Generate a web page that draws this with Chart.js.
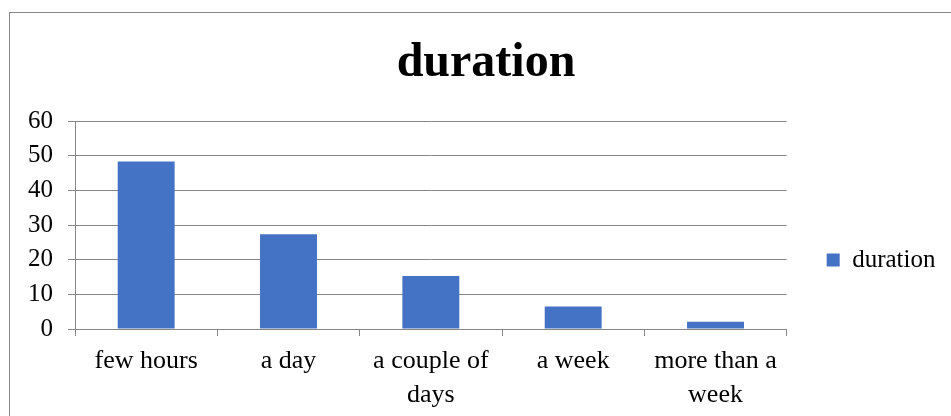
<!DOCTYPE html>
<html><head><meta charset="utf-8">
<script src="https://cdn.jsdelivr.net/npm/chart.js@4"></script>
<style>
html,body{margin:0;padding:0;overflow:hidden;background:#fff;}
#frame{position:absolute;left:9px;top:12px;width:1000px;height:500px;border:1px solid #888;box-sizing:border-box;}
#wrap{position:absolute;left:0;top:0;width:951px;height:416px;}
</style></head><body>
<div id="frame"></div>
<div id="wrap"><canvas id="c" width="951" height="416"></canvas></div>
<script>
const categories = [['few hours'], ['a day'], ['a couple of', 'days'], ['a week'], ['more than a', 'week']];
const values = [48.3, 27.3, 15.3, 6.5, 2.1];
const yMin = 0, yMax = 60, yStep = 10;
const seriesName = 'duration';
const titleText = 'duration';

const serif = 'Liberation Serif, Times New Roman, serif';
const grey = '#868686';

new Chart(document.getElementById('c').getContext('2d'), {
  type: 'bar',
  data: {
    labels: categories,
    datasets: [{
      label: seriesName, data: values,
      backgroundColor: '#4472C4', borderWidth: 0,
      categoryPercentage: 1, barPercentage: 0.4,
      xAxisID: 'x', yAxisID: 'y'
    }]
  },
  options: {
    responsive: false, animation: false, devicePixelRatio: 1,
    layout: { padding: { left: 26.5, right: 5.5, top: 0, bottom: 0 } },
    plugins: {
      title: { display: true, text: titleText, color: '#000',
        font: { family: serif, size: 48, weight: 'bold' }, padding: { top: 35, bottom: 28.4 } },
      legend: { position: 'right',
        title: { display: true, text: ' ', font: { size: 12, lineHeight: 1.2 }, padding: 44.8 },
        labels: { font: { family: serif, size: 25 }, color: '#000', boxWidth: 13, boxHeight: 13, padding: 10 } },
      tooltip: { enabled: false }
    },
    scales: {
      x: {
        grid: { drawOnChartArea: false, drawTicks: true, tickLength: 7, color: grey, offset: true },
        border: { color: grey },
        ticks: { font: { family: serif, size: 26, lineHeight: 1.31 }, color: '#000', padding: 8, maxRotation: 0, autoSkip: false },
        afterFit(s) { s.height = 87; }
      },
      y: {
        min: yMin, max: yMax,
        ticks: { stepSize: yStep, font: { family: serif, size: 25 }, color: '#000', padding: 15 },
        grid: { color: grey, tickLength: 7 },
        border: { color: grey },
        afterFit(s) { s.width = 48.5; }
      },
      y2: {
        type: 'linear', position: 'right', display: true,
        grid: { display: false }, border: { display: false }, ticks: { display: false },
        afterFit(s) { s.width = 30; }
      }
    }
  }
});
</script>
</body></html>
